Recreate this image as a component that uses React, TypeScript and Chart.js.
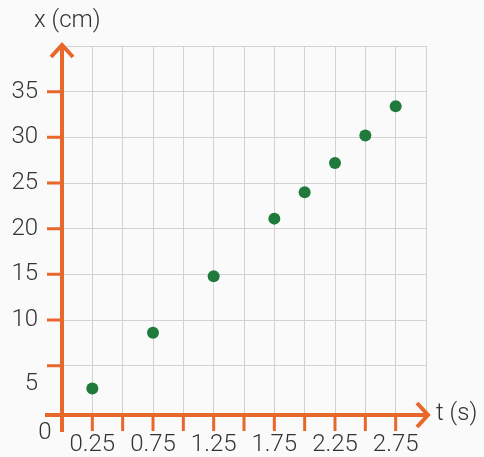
import React, { useEffect, useRef } from "react";
import { Chart, registerables } from "chart.js";

Chart.register(...registerables);

const times = [0.25, 0.75, 1.25, 1.75, 2.0, 2.25, 2.5, 2.75];
const positions = [2.5, 8.6, 14.8, 21.1, 24.0, 27.2, 30.2, 33.4];
const xTickLabels = [0.25, 0.75, 1.25, 1.75, 2.25, 2.75];
const yTickLabels = [5, 10, 15, 20, 25, 30, 35];
const yGridValues = [5, 10, 15, 20, 25, 30, 35, 40];
const xTitle = "t (s)";
const yTitle = "x (cm)";

const ORANGE = "#e8672a";
const TEXT = "#333333";
const FONT = "300 24px Roboto, 'Open Sans', sans-serif";

const axesPlugin = {
  id: "customAxes",
  beforeDatasetsDraw(chart: any) {
    const { ctx, chartArea, scales } = chart;
    const xs = scales.x;
    const ys = scales.y;
    const x0 = xs.getPixelForValue(0);
    const yb = chartArea.bottom;
    ctx.save();
    ctx.strokeStyle = ORANGE;
    ctx.lineCap = "butt";
    ctx.lineWidth = 3;
    ctx.beginPath();
    for (let v = 0.25; v <= 2.751; v += 0.25) {
      const px = xs.getPixelForValue(v);
      ctx.moveTo(px, yb);
      ctx.lineTo(px, yb + 16);
    }
    yTickLabels.forEach((v) => {
      const py = ys.getPixelForValue(v);
      ctx.moveTo(x0, py);
      ctx.lineTo(x0 - 15, py);
    });
    ctx.stroke();
    ctx.lineWidth = 4;
    ctx.beginPath();
    ctx.moveTo(x0, yb + 17);
    ctx.lineTo(x0, chartArea.top - 2);
    ctx.moveTo(x0 - 17, yb);
    ctx.lineTo(chartArea.right + 1, yb);
    ctx.stroke();
    ctx.lineJoin = "miter";
    ctx.beginPath();
    ctx.moveTo(x0 - 11, chartArea.top + 11);
    ctx.lineTo(x0, chartArea.top - 1);
    ctx.lineTo(x0 + 11, chartArea.top + 11);
    ctx.moveTo(chartArea.right - 9, yb - 12);
    ctx.lineTo(chartArea.right + 2, yb);
    ctx.lineTo(chartArea.right - 9, yb + 12);
    ctx.stroke();
    ctx.restore();
  },
  afterDraw(chart: any) {
    const { ctx, chartArea, scales } = chart;
    const xs = scales.x;
    const ys = scales.y;
    const x0 = xs.getPixelForValue(0);
    const yb = chartArea.bottom;
    ctx.save();
    ctx.fillStyle = TEXT;
    ctx.font = FONT;
    ctx.textBaseline = "middle";
    ctx.textAlign = "center";
    xTickLabels.forEach((v) => {
      ctx.fillText(v.toFixed(2), xs.getPixelForValue(v), yb + 30);
    });
    ctx.fillText("0", x0 - 17, yb + 18);
    ctx.textAlign = "right";
    yTickLabels.forEach((v) => {
      const off = v === 5 ? 18 : 0;
      ctx.fillText(String(v), x0 - 24, ys.getPixelForValue(v) + off);
    });
    ctx.textAlign = "left";
    ctx.fillText(yTitle, 34, chartArea.top - 25);
    ctx.fillText(xTitle, chartArea.right + 10, yb - 1);
    ctx.restore();
  },
};

const bgPlugin = {
  id: "bg",
  beforeDraw(chart: any) {
    const { ctx, width, height } = chart;
    ctx.save();
    ctx.fillStyle = "#fafafa";
    ctx.fillRect(0, 0, width, height);
    ctx.restore();
  },
};

export default function App() {
  const ref = useRef<HTMLCanvasElement>(null);
  useEffect(() => {
    if (!ref.current) return;
    const chart = new Chart(ref.current, {
      type: "scatter",
      data: {
        datasets: [
          {
            data: times.map((t, i) => ({ x: t, y: positions[i] })),
            backgroundColor: "#1f7a3c",
            borderColor: "#1f7a3c",
            pointRadius: 6,
            pointHoverRadius: 6,
            borderWidth: 0,
          },
        ],
      },
      plugins: [bgPlugin, axesPlugin],
      options: {
        animation: false,
        responsive: false,
        maintainAspectRatio: false,
        layout: { padding: { left: 62, right: 58, top: 46, bottom: 42 } },
        plugins: { legend: { display: false }, tooltip: { enabled: false } },
        scales: {
          x: {
            type: "linear",
            min: 0,
            max: 3,
            ticks: { display: false, stepSize: 0.25 },
            grid: { color: "#d2d2d2", lineWidth: 1, drawTicks: false },
            border: { display: false },
          },
          y: {
            type: "linear",
            min: -0.4,
            max: 40,
            afterBuildTicks: (scale: any) => {
              scale.ticks = yGridValues.map((v) => ({ value: v }));
            },
            ticks: { display: false },
            grid: { color: "#d2d2d2", lineWidth: 1, drawTicks: false },
            border: { display: false },
          },
        },
      },
    });
    return () => chart.destroy();
  }, []);
  return (
    <div style={{ position: "fixed", left: 0, top: 0, width: 484, height: 457, background: "#fafafa" }}>
      <canvas ref={ref} width={484} height={457} style={{ width: 484, height: 457 }} />
    </div>
  );
}
